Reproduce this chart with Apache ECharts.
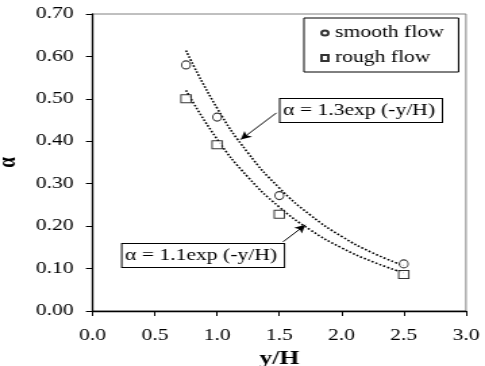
<!DOCTYPE html>
<html>
<head>
<meta charset="utf-8">
<script src="https://cdn.jsdelivr.net/npm/echarts@6/dist/echarts.min.js"></script>
<style>
	html, body { margin: 0; padding: 0; overflow: hidden; background: #fff; }
	/* the reference is stretched sideways, so draw narrow and widen */
	#chart { width: 359px; height: 366px; transform: scaleX(1.351); transform-origin: 0 0; }
</style>
</head>
<body>
<div id="chart"></div>
<script>
// measured points
var smoothX = [0.75, 1.0, 1.5, 2.5];
var smoothY = [0.58, 0.457, 0.272, 0.111];
var roughX = [0.75, 1.0, 1.5, 2.5];
var roughY = [0.50, 0.392, 0.228, 0.086];

// dotted trend curves
var curveX = [0.75, 1.0, 1.25, 1.5, 1.75, 2.0, 2.25, 2.5];
var smoothCurve = [0.614, 0.478, 0.372, 0.290, 0.226, 0.176, 0.137, 0.107];
var roughCurve = [0.520, 0.405, 0.315, 0.245, 0.191, 0.149, 0.116, 0.090];

var seriesNames = ['smooth flow', 'rough flow'];
var smoothLabel = 'α = 1.3exp (-y/H)';
var roughLabel = 'α = 1.1exp (-y/H)';

function pairs(xs, ys) {
	var out = [];
	for (var i = 0; i < xs.length; i++) {
		out.push([xs[i], ys[i]]);
	}
	return out;
}

var font = 'Liberation Serif';
var myChart = echarts.init(document.getElementById('chart'));
var option = {
	animation : false,
	textStyle : { fontFamily : font },
	grid : {
		left : 68.6,
		right : 14.1,
		top : 14,
		bottom : 55,
		containLabel : false,
		outerBoundsMode : 'none',
		show : true,
		borderColor : '#808080',
		borderWidth : 1
	},
	legend : {
		orient : 'vertical',
		left : 225,
		top : 18,
		padding : [ 7, 11, 6, 12 ],
		itemGap : 9,
		itemWidth : 5,
		itemHeight : 6,
		borderColor : '#000',
		borderWidth : 1,
		textStyle : { fontFamily : font, fontSize : 16, color : '#000' },
		data : [ { name : seriesNames[0], icon : 'circle' }, { name : seriesNames[1], icon : 'rect' } ]
	},
	xAxis : {
		type : 'value',
		min : 0,
		max : 3,
		interval : 0.5,
		name : 'y/H',
		nameLocation : 'middle',
		nameGap : 39,
		nameTextStyle : { fontFamily : font, fontSize : 19, fontWeight : 'bold', color : '#000' },
		axisLine : { lineStyle : { color : '#000', width : 1.3 } },
		axisTick : { show : true, length : 5, lineStyle : { color : '#000' } },
		axisLabel : {
			fontFamily : font, fontSize : 16, color : '#000', margin : 17,
			formatter : function(v) { return v.toFixed(1); }
		},
		splitLine : { show : false }
	},
	yAxis : {
		type : 'value',
		min : 0,
		max : 0.7,
		interval : 0.1,
		name : 'α',
		nameLocation : 'middle',
		nameGap : 45,
		nameRotate : 90,
		nameTextStyle : { fontFamily : font, fontSize : 19, fontWeight : 'bold', color : '#000' },
		axisLine : { show : true, lineStyle : { color : '#000', width : 1.3 } },
		axisTick : { show : true, length : 5, lineStyle : { color : '#000' } },
		axisLabel : {
			fontFamily : font, fontSize : 16, color : '#000', margin : 14,
			formatter : function(v) { return v.toFixed(2); }
		},
		splitLine : { show : false }
	},
	series : [ {
		name : 'smooth trend',
		type : 'line',
		smooth : true,
		symbol : 'none',
		data : pairs(curveX, smoothCurve),
		lineStyle : { color : '#000', width : 1.6, type : 'dotted' },
		markLine : {
			silent : true,
			symbol : [ 'none', 'arrow' ],
			symbolSize : [ 6, 8 ],
			label : { show : false },
			lineStyle : { color : '#000', width : 1, type : 'solid' },
			data : [ [ { coord : [ 1.477, 0.467 ] }, { coord : [ 1.19, 0.404 ] } ] ]
		}
	}, {
		name : 'rough trend',
		type : 'line',
		smooth : true,
		symbol : 'none',
		data : pairs(curveX, roughCurve),
		lineStyle : { color : '#000', width : 1.6, type : 'dotted' },
		markLine : {
			silent : true,
			symbol : [ 'none', 'arrow' ],
			symbolSize : [ 6, 8 ],
			label : { show : false },
			lineStyle : { color : '#000', width : 1, type : 'solid' },
			data : [ [ { coord : [ 1.53, 0.163 ] }, { coord : [ 1.71, 0.203 ] } ] ]
		}
	}, {
		name : seriesNames[0],
		type : 'scatter',
		symbol : 'circle',
		symbolSize : [ 6.5, 8 ],
		data : pairs(smoothX, smoothY),
		itemStyle : { color : '#fff', borderColor : '#000', borderWidth : 1 },
		z : 5
	}, {
		name : seriesNames[1],
		type : 'scatter',
		symbol : 'rect',
		symbolSize : [ 7.5, 8 ],
		data : pairs(roughX, roughY),
		itemStyle : { color : '#fff', borderColor : '#000', borderWidth : 1 },
		z : 5
	} ],
	graphic : [ {
		type : 'text',
		left : 206.5,
		top : 98,
		z : 10,
		style : {
			text : smoothLabel,
			font : '16px "Liberation Serif"',
			fill : '#000',
			backgroundColor : '#fff',
			borderColor : '#000',
			borderWidth : 1,
			padding : [ 4, 5, 3, 2 ]
		}
	}, {
		type : 'text',
		left : 89.6,
		top : 243,
		z : 10,
		style : {
			text : roughLabel,
			font : '16px "Liberation Serif"',
			fill : '#000',
			backgroundColor : '#fff',
			borderColor : '#000',
			borderWidth : 1,
			padding : [ 4, 5, 3, 2 ]
		}
	} ]
};
myChart.setOption(option);
</script>
</body>
</html>
